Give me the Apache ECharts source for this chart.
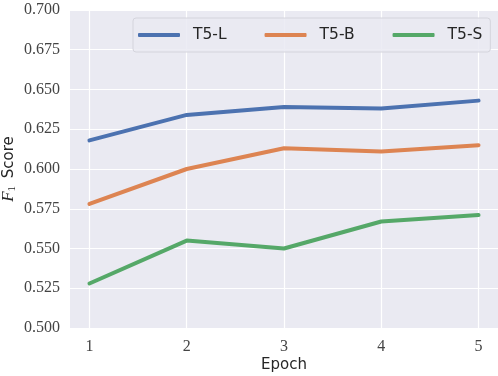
<!DOCTYPE html>
<html><head><meta charset="utf-8">
<script src="https://cdn.jsdelivr.net/npm/echarts@6/dist/echarts.min.js"></script>
<style>html,body{margin:0;padding:0;background:#fff}#c{width:498px;height:376px}</style>
</head><body><div id="c"></div>
<script>
const epochs = [1, 2, 3, 4, 5];
const t5L = [0.618, 0.634, 0.639, 0.638, 0.643];
const t5B = [0.578, 0.600, 0.613, 0.611, 0.615];
const t5S = [0.528, 0.555, 0.550, 0.567, 0.571];
const seriesNames = ['T5-L', 'T5-B', 'T5-S'];
const colors = ['#4C72B0', '#DD8452', '#55A868'];
const xTicks = [1, 2, 3, 4, 5];

const chart = echarts.init(document.getElementById('c'));
const mk = (name, vals, color) => ({
  name, type: 'line', symbol: 'none', smooth: false,
  data: epochs.map((e, i) => [e, vals[i]]),
  lineStyle: { width: 4, color, cap: 'round', join: 'round' },
  itemStyle: { color }
});
chart.setOption({
  animation: false,
  backgroundColor: '#ffffff',
  grid: { left: 70, right: 0, top: 10, bottom: 48, show: true, backgroundColor: '#EAEAF2', borderWidth: 0,
    containLabel: false, outerBoundsMode: 'none' },
  legend: {
    left: 133, top: 18, padding: [9, 8, 9, 5], itemGap: 38,
    icon: 'roundRect', itemWidth: 42, itemHeight: 4,
    backgroundColor: 'rgba(234,234,242,0.85)', borderColor: '#d4d4dc', borderWidth: 1, borderRadius: 3,
    textStyle: { fontFamily: 'DejaVu Sans', fontSize: 15.5, color: '#262626', padding: [0, 0, 0, 8] },
    data: seriesNames
  },
  xAxis: {
    type: 'value', min: 0.8, max: 5.2,
    name: 'Epoch', nameLocation: 'middle', nameGap: 30, nameMoveOverlap: false,
    nameTextStyle: { fontFamily: 'DejaVu Sans', fontSize: 15, color: '#262626' },
    axisLine: { show: false }, axisTick: { show: false, customValues: xTicks },
    axisLabel: { customValues: xTicks, margin: 11, fontFamily: 'Liberation Serif', fontSize: 16, color: '#444' },
    splitLine: { show: true, lineStyle: { color: '#ffffff', width: 1.2 } }
  },
  yAxis: {
    type: 'value', min: 0.5, max: 0.7, interval: 0.025,
    name: '{i|F}{s|1} Score', nameLocation: 'middle', nameGap: 52, nameRotate: 90, nameMoveOverlap: false,
    nameTextStyle: {
      fontFamily: 'DejaVu Sans', fontSize: 15, color: '#262626',
      rich: {
        i: { fontFamily: 'Liberation Serif', fontStyle: 'italic', fontSize: 17, color: '#262626' },
        s: { fontFamily: 'Liberation Serif', fontSize: 11, color: '#262626', padding: [7, 3, 0, 0] }
      }
    },
    axisLine: { show: false }, axisTick: { show: false },
    axisLabel: { margin: 10, fontFamily: 'Liberation Serif', fontSize: 16, color: '#444',
      formatter: v => v.toFixed(3) },
    splitLine: { show: true, lineStyle: { color: '#ffffff', width: 1.2 } }
  },
  series: [mk(seriesNames[0], t5L, colors[0]), mk(seriesNames[1], t5B, colors[1]), mk(seriesNames[2], t5S, colors[2])]
});
</script></body></html>
